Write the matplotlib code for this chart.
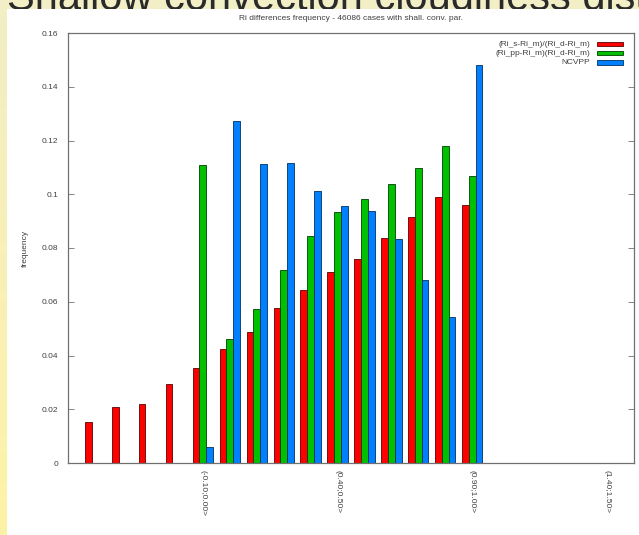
import matplotlib
matplotlib.use("Agg")
import matplotlib.pyplot as plt
import numpy as np
from matplotlib.patches import Rectangle
from matplotlib.ticker import FormatStrFormatter
from matplotlib.colors import LinearSegmentedColormap

categories = ["(-0.50;-0.40>", "(-0.40;-0.30>", "(-0.30;-0.20>", "(-0.20;-0.10>",
              "(-0.10;0.00>", "(0.00;0.10>", "(0.10;0.20>", "(0.20;0.30>",
              "(0.30;0.40>", "(0.40;0.50>", "(0.50;0.60>", "(0.60;0.70>",
              "(0.70;0.80>", "(0.80;0.90>", "(0.90;1.00>", "(1.00;1.10>",
              "(1.10;1.20>", "(1.20;1.30>", "(1.30;1.40>", "(1.40;1.50>"]
red_vals = [0.0153, 0.0207, 0.0221, 0.0293, 0.0353, 0.0423, 0.0487, 0.0577,
            0.0643, 0.0710, 0.0759, 0.0837, 0.0914, 0.0991, 0.0961,
            0, 0, 0, 0, 0]
green_vals = [0, 0, 0, 0, 0.1108, 0.0460, 0.0573, 0.0717,
              0.0846, 0.0935, 0.0981, 0.1038, 0.1099, 0.1178, 0.1067,
              0, 0, 0, 0, 0]
blue_vals = [0, 0, 0, 0, 0.0058, 0.1274, 0.1111, 0.1115,
             0.1013, 0.0956, 0.0937, 0.0832, 0.0681, 0.0543, 0.1480,
             0, 0, 0, 0, 0]
series_names = ["(Ri_s-Ri_m)/(Ri_d-Ri_m)", "(Ri_pp-Ri_m)(Ri_d-Ri_m)", "NCVPP"]
series_colors = ["#ff0000", "#00c000", "#0080ff"]
edge_colors = ["#5a0000", "#004000", "#003060"]
shown_ticks = [4, 9, 14, 19]
title = "Ri differences frequency - 46086 cases with shall. conv. par."
slide_title = "Shallow convection cloudiness distribution"

W, H = 639, 535
fig = plt.figure(figsize=(W / 100, H / 100), dpi=100)

# slide background
top_white = 9
bg = fig.add_axes([0, 0, 1, 1], zorder=-5)
grad = np.linspace(0, 1, 256).reshape(-1, 1)
cmap = LinearSegmentedColormap.from_list("bgc", ["#f2eec6", "#fdf3a6"])
bg.imshow(grad, aspect="auto", cmap=cmap, extent=[0, 1, 0, 1], origin="upper")
bg.text(7 / W, 1 - (top_white + 1) / H, slide_title, transform=bg.transAxes,
        ha="left", va="baseline", fontsize=30, family="Liberation Sans",
        color="#2a2a2a", zorder=1)
bg.add_patch(Rectangle((7 / W, 0), 1, 1 - top_white / H, transform=bg.transAxes,
                       facecolor="white", edgecolor="none", zorder=2))
bg.set_xlim(0, 1)
bg.set_ylim(0, 1)
bg.axis("off")

plt.rcParams["font.family"] = ["Liberation Sans", "DejaVu Sans"]
ax = fig.add_axes([68 / W, (H - 463) / H, (634 - 68) / W, (463 - 33) / H])
x = np.arange(len(categories))
bw = 0.25
for k, (vals, col, ec) in enumerate(zip([red_vals, green_vals, blue_vals],
                                        series_colors, edge_colors)):
    ax.bar(x + (k - 1) * bw, vals, width=bw, color=col, edgecolor=ec,
           linewidth=0.6, zorder=2)

ax.set_xlim(-1, 20)
ax.set_ylim(0, 0.16)
ax.set_yticks(np.arange(0, 0.161, 0.02))
ax.yaxis.set_major_formatter(FormatStrFormatter("%g"))
ax.set_xticks(shown_ticks)
ax.set_xticklabels([categories[i] for i in shown_ticks], rotation=-90,
                   ha="center", va="top")
ax.tick_params(axis="x", length=0, pad=5, labelsize=6, labelcolor="#404040")
ax.tick_params(axis="y", direction="in", length=4, width=0.6, color="#707070",
               left=True, right=True, labelsize=6, labelcolor="#404040", pad=7)
for s in ax.spines.values():
    s.set_color("#707070")
    s.set_linewidth(0.9)
ax.set_ylabel("frequency", fontsize=6, color="#404040", labelpad=9)
ax.set_title(title, fontsize=6, color="#404040", pad=9)

# legend (gnuplot style: text right-aligned, sample to the right)
rows_y = [44, 53, 62.5]
for name, col, ec, yy in zip(series_names, series_colors, edge_colors, rows_y):
    ya = (463 - yy) / (463 - 33)
    ax.text((590 - 68) / (634 - 68), ya, name, transform=ax.transAxes,
            ha="right", va="center", fontsize=6, color="#404040")
    ax.add_patch(Rectangle(((597 - 68) / (634 - 68), ya - 2.2 / 430),
                           26 / 566, 4.4 / 430, transform=ax.transAxes,
                           facecolor=col, edgecolor=ec, linewidth=0.6,
                           clip_on=False))

fig.savefig("out.png", dpi=100)
